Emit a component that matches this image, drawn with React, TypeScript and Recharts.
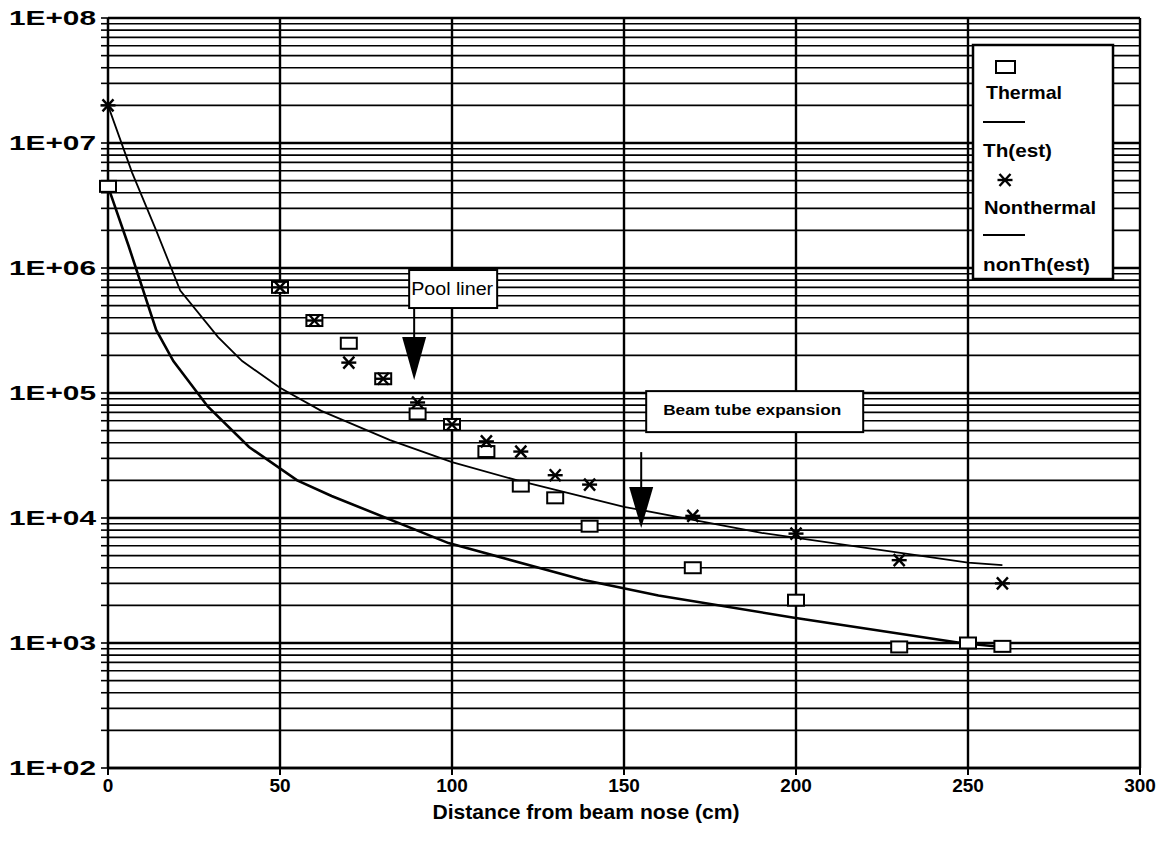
import React from 'react';
import {
  ComposedChart,
  XAxis,
  YAxis,
  CartesianGrid,
  Scatter,
  Line,
  ReferenceDot,
  ReferenceLine,
} from 'recharts';

// ---- data ----
const thermalX = [0, 50, 60, 70, 80, 90, 100, 110, 120, 130, 140, 170, 200, 230, 250, 260];
const thermalY = [4.5e6, 7e5, 3.8e5, 2.5e5, 1.3e5, 6.8e4, 5.6e4, 3.4e4, 1.8e4, 1.45e4, 8.6e3, 4.0e3, 2.2e3, 9.3e2, 1.0e3, 9.4e2];

const nonThermalX = [0, 50, 60, 70, 80, 90, 100, 110, 120, 130, 140, 170, 200, 230, 260];
const nonThermalY = [2e7, 7e5, 3.8e5, 1.75e5, 1.3e5, 8.4e4, 5.6e4, 4.1e4, 3.4e4, 2.2e4, 1.85e4, 1.04e4, 7.5e3, 4.6e3, 3.0e3];

const thEstX = [0, 6, 14, 19, 29, 41, 55, 65, 99, 138, 160, 199, 248, 260];
const thEstY = [4.5e6, 1.5e6, 3.2e5, 1.8e5, 7.8e4, 3.7e4, 2.0e4, 1.5e4, 6.3e3, 3.2e3, 2.4e3, 1.6e3, 1.0e3, 9.3e2];

const nonThEstX = [0, 7, 14, 21, 32, 39, 50, 62, 82, 100, 119, 150, 190, 250, 260];
const nonThEstY = [2e7, 5.8e6, 2e6, 6.6e5, 2.8e5, 1.8e5, 1.1e5, 7.2e4, 4.2e4, 2.8e4, 2.0e4, 1.23e4, 7.6e3, 4.4e3, 4.2e3];

const xTicks = [0, 50, 100, 150, 200, 250, 300];
const decadeTicks = [1e2, 1e3, 1e4, 1e5, 1e6, 1e7, 1e8];
const minorMultipliers = [2, 3, 4, 5, 6, 7, 8, 9];
const decadeLabels = ['1E+02', '1E+03', '1E+04', '1E+05', '1E+06', '1E+07', '1E+08'];
const legendLabels = ['Thermal', 'Th(est)', 'Nonthermal', 'nonTh(est)'];
const xAxisTitle = 'Distance from beam nose (cm)';
const poolLinerText = 'Pool liner';
const poolLinerAt = { x: 89, y: 1.27e5 };
const beamTubeText = 'Beam tube expansion';
const beamTubeAt = { x: 155, y: 8.3e3 };

const yTicks = [
  ...decadeTicks,
  ...decadeTicks.slice(0, -1).flatMap((d) => minorMultipliers.map((m) => m * d)),
].sort((a, b) => a - b);

const zip = (xs: number[], ys: number[]) => xs.map((x, i) => ({ x, y: ys[i] }));
const thermalData = zip(thermalX, thermalY);
const nonThermalData = zip(nonThermalX, nonThermalY);
const thEstData = zip(thEstX, thEstY);
const nonThEstData = zip(nonThEstX, nonThEstY);

const FONT = '"Liberation Sans", Arial, Helvetica, sans-serif';

const SquareMarker = (props: any) => {
  const { cx, cy } = props;
  if (cx == null || cy == null) return null;
  return <rect x={cx - 8} y={cy - 5.5} width={16} height={11} fill="#fff" stroke="#000" strokeWidth={2} />;
};

const StarMarker = (props: any) => {
  const { cx, cy } = props;
  if (cx == null || cy == null) return null;
  return (
    <g stroke="#000" strokeWidth={2.4}>
      <line x1={cx - 7.5} y1={cy} x2={cx + 7.5} y2={cy} />
      <line x1={cx - 5.5} y1={cy - 6} x2={cx + 5.5} y2={cy + 6} />
      <line x1={cx - 5.5} y1={cy + 6} x2={cx + 5.5} y2={cy - 6} />
    </g>
  );
};

const XTick = (props: any) => {
  const { x, y, payload } = props;
  return (
    <text x={x} y={y + 15} textAnchor="middle" fontFamily={FONT} fontSize={19} fontWeight="bold" fill="#000">
      {payload.value}
    </text>
  );
};

const YTick = (props: any) => {
  const { x, y, payload } = props;
  const idx = decadeTicks.indexOf(payload.value);
  if (idx < 0) return null;
  return (
    <text
      x={x - 3}
      y={y + 7}
      textAnchor="end"
      fontFamily={FONT}
      fontSize={20}
      fontWeight="bold"
      fill="#000"
      textLength={87}
      lengthAdjust="spacingAndGlyphs"
    >
      {decadeLabels[idx]}
    </text>
  );
};

const PoolLiner = (props: any) => {
  const { cx, cy } = props;
  if (cx == null) return null;
  return (
    <g>
      <line x1={cx} y1={cy - 72} x2={cx} y2={cy - 40} stroke="#000" strokeWidth={2} />
      <path d={`M${cx - 12},${cy - 43} L${cx + 12},${cy - 43} L${cx},${cy} Z`} fill="#000" />
      <rect x={cx - 5} y={cy - 110} width={88} height={38} fill="#fff" stroke="#000" strokeWidth={2} />
      <text
        x={cx - 3}
        y={cy - 85}
        fontFamily={FONT}
        fontSize={18}
        fill="#000"
        textLength={82}
        lengthAdjust="spacingAndGlyphs"
      >
        {poolLinerText}
      </text>
    </g>
  );
};

const BeamTube = (props: any) => {
  const { cx, cy } = props;
  if (cx == null) return null;
  return (
    <g>
      <line x1={cx} y1={cy - 76} x2={cx} y2={cy - 38} stroke="#000" strokeWidth={2} />
      <path d={`M${cx - 12},${cy - 41} L${cx + 12},${cy - 41} L${cx},${cy} Z`} fill="#000" />
      <rect x={cx + 5} y={cy - 137} width={217} height={41} fill="#fff" stroke="#000" strokeWidth={2} />
      <text
        x={cx + 22}
        y={cy - 113}
        fontFamily={FONT}
        fontSize={14}
        fontWeight="bold"
        fill="#000"
        textLength={178}
        lengthAdjust="spacingAndGlyphs"
      >
        {beamTubeText}
      </text>
    </g>
  );
};

const Overlay = () => {
  const tStyle = { fontFamily: FONT, fontSize: 19, fontWeight: 'bold' as const, fill: '#000' };
  return (
    <svg
      width={1169}
      height={841}
      style={{ position: 'absolute', left: 0, top: 0, pointerEvents: 'none' }}
    >
      <rect x={973} y={45} width={140} height={234} fill="#fff" stroke="#000" strokeWidth={2.5} />
      <rect x={996} y={61} width={19} height={12} fill="#fff" stroke="#000" strokeWidth={2} />
      <text x={986} y={99} {...tStyle} textLength={76} lengthAdjust="spacingAndGlyphs">{legendLabels[0]}</text>
      <line x1={983} y1={122} x2={1025} y2={122} stroke="#000" strokeWidth={2} />
      <text x={983} y={157} {...tStyle} textLength={69} lengthAdjust="spacingAndGlyphs">{legendLabels[1]}</text>
      <StarMarker cx={1005} cy={180} />
      <text x={984} y={214} {...tStyle} textLength={112} lengthAdjust="spacingAndGlyphs">{legendLabels[2]}</text>
      <line x1={983} y1={235} x2={1025} y2={235} stroke="#000" strokeWidth={2} />
      <text x={983} y={271} {...tStyle} textLength={107} lengthAdjust="spacingAndGlyphs">{legendLabels[3]}</text>
      <text
        x={586}
        y={819}
        textAnchor="middle"
        fontFamily={FONT}
        fontSize={21}
        fontWeight="bold"
        fill="#000"
        textLength={307}
        lengthAdjust="spacingAndGlyphs"
      >
        {xAxisTitle}
      </text>
    </svg>
  );
};

export default function App() {
  return (
    <div style={{ position: 'absolute', left: 0, top: 0, width: 1169, height: 841, background: '#fff' }}>
      <ComposedChart width={1169} height={841} margin={{ top: 18, right: 29, bottom: 0, left: 0 }}>
        <CartesianGrid stroke="#000" strokeWidth={1.6} horizontal vertical />
        <XAxis
          dataKey="x"
          type="number"
          domain={[0, 300]}
          ticks={xTicks}
          interval={0}
          height={73}
          tickSize={7}
          axisLine={{ stroke: '#000', strokeWidth: 2.5 }}
          tickLine={{ stroke: '#000', strokeWidth: 2 }}
          tick={<XTick />}
        />
        <YAxis
          dataKey="y"
          type="number"
          scale="log"
          domain={[1e2, 1e8]}
          ticks={yTicks}
          interval={0}
          width={108}
          tickSize={7}
          axisLine={{ stroke: '#000', strokeWidth: 2.5 }}
          tickLine={{ stroke: '#000', strokeWidth: 1.6 }}
          tick={<YTick />}
        />
        {decadeTicks.map((d) => (
          <ReferenceLine key={d} y={d} stroke="#000" strokeWidth={2.4} />
        ))}
        {xTicks.slice(1).map((v) => (
          <ReferenceLine key={'v' + v} x={v} stroke="#000" strokeWidth={2.4} />
        ))}
        <Line
          data={nonThEstData}
          dataKey="y"
          type="linear"
          stroke="#000"
          strokeWidth={1.8}
          dot={false}
          activeDot={false}
          isAnimationActive={false}
        />
        <Line
          data={thEstData}
          dataKey="y"
          type="linear"
          stroke="#000"
          strokeWidth={2.6}
          dot={false}
          activeDot={false}
          isAnimationActive={false}
        />
        <Scatter data={thermalData} dataKey="y" shape={<SquareMarker />} isAnimationActive={false} />
        <Scatter data={nonThermalData} dataKey="y" shape={<StarMarker />} isAnimationActive={false} />
        <ReferenceDot x={poolLinerAt.x} y={poolLinerAt.y} shape={<PoolLiner />} />
        <ReferenceDot x={beamTubeAt.x} y={beamTubeAt.y} shape={<BeamTube />} />
      </ComposedChart>
      <Overlay />
    </div>
  );
}
